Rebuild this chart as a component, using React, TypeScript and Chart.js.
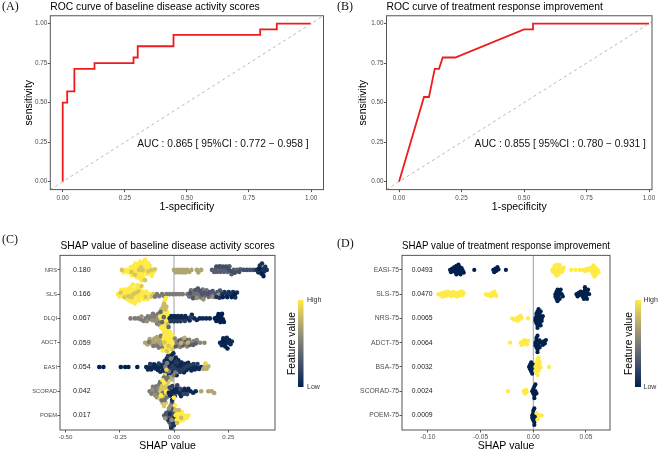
import React, { useEffect, useRef } from "react";
import { Chart, registerables } from "chart.js";
Chart.register(...registerables);

const FONT = "'Liberation Sans', Arial, sans-serif";

// ---------- ROC data ----------
const rocTicks = [0, 0.25, 0.5, 0.75, 1];
const rocA_fpr = [0, 0, 0.018, 0.018, 0.047, 0.047, 0.128, 0.128, 0.285, 0.285, 0.302, 0.302, 0.446, 0.446, 0.795, 0.795, 0.862, 0.862, 1];
const rocA_tpr = [0, 0.5, 0.5, 0.571, 0.571, 0.714, 0.714, 0.75, 0.75, 0.786, 0.786, 0.857, 0.857, 0.929, 0.929, 0.964, 0.964, 1, 1];
const rocB_fpr = [0, 0.1, 0.12, 0.143, 0.16, 0.175, 0.225, 0.5, 0.536, 0.536, 1];
const rocB_tpr = [0, 0.536, 0.536, 0.714, 0.714, 0.786, 0.786, 0.964, 0.964, 1, 1];
const aucTextA = "AUC : 0.865 [ 95%CI : 0.772 \u2212 0.958 ]";
const aucTextB = "AUC : 0.855 [ 95%CI : 0.780 \u2212 0.931 ]";
const aucPos = [0.645, 0.24];

// ---------- SHAP (C) : [feature value (0 low .. 1 high), SHAP values] ----------
type Group = [number, number[]];
const shapNRS: Group[] = [
  [1.0, [-0.232, -0.22, -0.212, -0.205, -0.199, -0.194, -0.19, -0.186, -0.182, -0.178, -0.175, -0.172, -0.169, -0.166, -0.163, -0.16, -0.158, -0.155, -0.153, -0.15, -0.148, -0.146, -0.143, -0.141, -0.138, -0.136, -0.133, -0.13, -0.127, -0.124, -0.12, -0.116, -0.112, -0.107, -0.101, -0.094]],
  [0.85, [-0.24, -0.196, -0.18, -0.161, -0.152, -0.144, -0.134, -0.118, -0.104, -0.088]],
  [0.7, [0.0, 0.008, 0.015, 0.022, 0.03, 0.037, 0.045, 0.052, 0.06, 0.07, 0.08, 0.105, 0.112, 0.125]],
  [0.35, [0.175, 0.185, 0.192, 0.2, 0.207, 0.214, 0.222, 0.23, 0.238, 0.246, 0.255, 0.265, 0.275, 0.29, 0.305]],
  [0.25, [0.195, 0.21, 0.225, 0.24, 0.252, 0.262, 0.28, 0.3, 0.32, 0.335, 0.35, 0.365]],
  [0.1, [0.38, 0.388, 0.395, 0.4, 0.405, 0.41, 0.415, 0.42, 0.427]],
  [0.0, [0.392, 0.403, 0.412]],
];
const shapSLS: Group[] = [
  [1.0, [-0.258, -0.25, -0.243, -0.237, -0.231, -0.226, -0.221, -0.217, -0.213, -0.209, -0.205, -0.202, -0.199, -0.196, -0.193, -0.19, -0.187, -0.184, -0.181, -0.178, -0.175, -0.172, -0.169, -0.166, -0.163, -0.16, -0.156, -0.152, -0.148, -0.144, -0.139, -0.134, -0.128, -0.121, -0.113]],
  [0.85, [-0.246, -0.228, -0.21, -0.197, -0.188, -0.176, -0.164, -0.15, -0.13, -0.105, -0.095]],
  [0.5, [-0.088, -0.078, -0.068, -0.055, -0.045, -0.035, -0.02, -0.005, 0.01, 0.025, 0.04]],
  [0.45, [0.062, 0.07, 0.078, 0.085, 0.092, 0.1, 0.108, 0.116, 0.124, 0.132, 0.14, 0.15, 0.16, 0.17]],
  [0.3, [0.075, 0.088, 0.098, 0.11, 0.12, 0.13, 0.142, 0.155, 0.165, 0.178, 0.19, 0.2, 0.212]],
  [0.6, [0.105, 0.135, 0.18, 0.205]],
  [0.1, [0.195, 0.21, 0.222, 0.232, 0.242, 0.252, 0.262, 0.272, 0.282, 0.29]],
  [0.0, [0.225, 0.245, 0.265, 0.28]],
];
const shapDLQI: Group[] = [
  [0.5, [-0.2, -0.18, -0.165, -0.152, -0.14, -0.13, -0.12, -0.112, -0.104, -0.097, -0.09, -0.084, -0.078, -0.073, -0.068]],
  [0.6, [-0.15, -0.125, -0.1, -0.085, -0.075, -0.066]],
  [1.0, [-0.064, -0.06, -0.057, -0.054, -0.052, -0.05, -0.048, -0.046, -0.045, -0.044, -0.043, -0.042, -0.041, -0.04, -0.039, -0.038, -0.036, -0.034, -0.032, -0.03, -0.027]],
  [0.8, [-0.058, -0.05, -0.046, -0.04, -0.035, -0.028]],
  [0.4, [-0.062, -0.055, -0.047, -0.037, -0.025]],
  [0.05, [-0.02, -0.012, -0.005, 0.002, 0.01, 0.018, 0.026, 0.034, 0.043, 0.052, 0.062, 0.072, 0.082, 0.093, 0.105, 0.118, 0.132, 0.148, 0.165]],
  [0.15, [-0.015, 0.0, 0.015, 0.03, 0.05, 0.075]],
  [0.0, [0.188, 0.195, 0.2, 0.205, 0.209, 0.213, 0.217, 0.221, 0.225, 0.23]],
];
const shapADCT: Group[] = [
  [0.7, [-0.133, -0.122, -0.112, -0.104, -0.097, -0.09, -0.084, -0.078, -0.073, -0.068, -0.063, -0.058, -0.054]],
  [0.5, [-0.115, -0.095, -0.08, -0.07, -0.06, -0.052]],
  [1.0, [-0.052, -0.048, -0.045, -0.042, -0.039, -0.036, -0.034, -0.032, -0.03, -0.028, -0.026, -0.024, -0.022, -0.02, -0.018, -0.016, -0.013, -0.01, -0.007, -0.003, 0.001]],
  [0.85, [-0.044, -0.033, -0.025, -0.017, -0.008]],
  [0.55, [0.004, 0.012, 0.02, 0.028, 0.036, 0.044, 0.052, 0.06, 0.07, 0.08, 0.092, 0.105, 0.12, 0.14]],
  [0.35, [0.008, 0.024, 0.04, 0.056, 0.072, 0.088, 0.1]],
  [0.75, [0.032, 0.048, 0.064]],
  [0.05, [0.212, 0.22, 0.227, 0.233, 0.238, 0.243, 0.248, 0.254, 0.26, 0.266]],
  [0.0, [0.224, 0.236, 0.246]],
];
const shapEASI: Group[] = [
  [0.0, [-0.344, -0.325, -0.245, -0.225, -0.21, -0.169]],
  [0.05, [-0.128, -0.12, -0.112, -0.105, -0.098, -0.092, -0.086, -0.08, -0.074, -0.068, -0.063, -0.058, -0.053, -0.048, -0.043, -0.038, -0.034, -0.03, -0.026, -0.022, -0.018, -0.015, -0.012, -0.009, -0.006, -0.003, 0.0, 0.004, 0.008, 0.012, 0.016, 0.02, 0.025, 0.03, 0.035, 0.04, 0.046, 0.052, 0.058, 0.065, 0.072, 0.08, 0.088, 0.096, 0.105, 0.115, 0.125]],
  [0.15, [-0.11, -0.07, -0.045, -0.028, -0.016, -0.008, 0.002, 0.01, 0.018, 0.028, 0.038, 0.05, 0.062, 0.075, 0.09, 0.108]],
  [0.5, [-0.04, -0.032, -0.024, -0.014, -0.004, 0.006]],
  [0.75, [-0.02, -0.01, 0.135, 0.142, 0.15, 0.158]],
  [0.9, [-0.035, 0.145]],
];
const shapSCORAD: Group[] = [
  [0.5, [-0.112, -0.104, -0.097, -0.091, -0.086, -0.081, -0.077, -0.073, -0.069]],
  [0.6, [-0.1, -0.088, -0.079, -0.071]],
  [0.85, [-0.066, -0.062, -0.058, -0.055, -0.052, -0.05, -0.048, -0.046, -0.044, -0.042, -0.04, -0.038, -0.035, -0.032, -0.028]],
  [0.45, [-0.064, -0.057, -0.051, -0.047, -0.043, -0.039, -0.034, -0.03]],
  [1.0, [-0.06, -0.053, -0.045, -0.037]],
  [0.05, [-0.024, -0.018, -0.012, -0.006, 0.0, 0.006, 0.012, 0.018, 0.025, 0.032, 0.04, 0.048, 0.057, 0.066, 0.076, 0.088, 0.1]],
  [0.2, [-0.02, -0.008, 0.004, 0.015, 0.028, 0.044, 0.06]],
  [0.7, [0.125, 0.158, 0.174, 0.185]],
];
const shapPOEM: Group[] = [
  [0.3, [-0.045, -0.036, -0.03, -0.025, -0.021, -0.018, -0.015, -0.012, -0.01, -0.008, -0.006, -0.004, -0.002]],
  [0.1, [-0.028, -0.019, -0.013, -0.009, -0.005, -0.001, 0.002]],
  [0.6, [-0.04, -0.023, -0.016, -0.011]],
  [1.0, [0.0, 0.004, 0.008, 0.012, 0.016, 0.02, 0.025, 0.03, 0.036, 0.042, 0.05, 0.058, 0.066]],
  [0.8, [0.006, 0.014, 0.022, 0.033]],
];
const labelsC = ["NRS", "SLS", "DLQI", "ADCT", "EASI", "SCORAD", "POEM"];
const importanceC = [0.18, 0.166, 0.067, 0.059, 0.054, 0.042, 0.017];
const ticksC = [-0.5, -0.25, 0, 0.25];

// ---------- SHAP (D) ----------
const shapEASI75: Group[] = [
  [0, [-0.079, -0.078, -0.077, -0.076, -0.075, -0.074, -0.074, -0.073, -0.073, -0.072, -0.072, -0.071, -0.071, -0.07, -0.07, -0.069, -0.069, -0.068, -0.067, -0.066, -0.056, -0.038, -0.037, -0.036, -0.035, -0.034, -0.033, -0.026]],
  [1, [0.018, 0.019, 0.02, 0.02, 0.021, 0.021, 0.022, 0.022, 0.023, 0.023, 0.024, 0.024, 0.025, 0.025, 0.026, 0.027, 0.028, 0.029, 0.036, 0.04, 0.044, 0.047, 0.049, 0.05, 0.052, 0.053, 0.055, 0.056, 0.056, 0.057, 0.057, 0.058, 0.058, 0.059, 0.059, 0.06, 0.061, 0.062]],
];
const shapSLS75: Group[] = [
  [1, [-0.09, -0.088, -0.087, -0.086, -0.085, -0.084, -0.083, -0.082, -0.081, -0.08, -0.079, -0.078, -0.077, -0.076, -0.075, -0.074, -0.073, -0.072, -0.071, -0.07, -0.069, -0.068, -0.067, -0.066, -0.045, -0.043, -0.041, -0.04, -0.039, -0.038, -0.037, -0.036, -0.035]],
  [0, [0.021, 0.021, 0.022, 0.022, 0.023, 0.023, 0.024, 0.024, 0.025, 0.025, 0.026, 0.027, 0.028, 0.041, 0.042, 0.043, 0.044, 0.045, 0.047, 0.047, 0.048, 0.048, 0.049, 0.049, 0.05, 0.05, 0.051, 0.051, 0.052, 0.053]],
];
const shapNRS75: Group[] = [
  [1, [-0.02, -0.018, -0.016, -0.015, -0.014, -0.013, -0.012, -0.011, -0.005]],
  [0, [0.002, 0.002, 0.003, 0.003, 0.003, 0.004, 0.004, 0.004, 0.005, 0.005, 0.005, 0.006, 0.006, 0.006, 0.007, 0.007, 0.008, 0.008, 0.009]],
];
const shapADCT75: Group[] = [
  [1, [-0.022, -0.012, -0.011, -0.01, -0.009, -0.008, -0.007, -0.006, -0.005]],
  [0, [0.002, 0.002, 0.003, 0.003, 0.003, 0.004, 0.004, 0.004, 0.005, 0.005, 0.006, 0.006, 0.008, 0.009, 0.01, 0.011, 0.012]],
];
const shapBSA75: Group[] = [
  [0, [-0.004, -0.003, -0.003, -0.002, -0.002, -0.001, -0.001, 0.0, 0.0]],
  [1, [0.002, 0.002, 0.003, 0.003, 0.003, 0.004, 0.004, 0.004, 0.005, 0.005, 0.005, 0.006, 0.006, 0.007, 0.015]],
];
const shapSCORAD75: Group[] = [
  [1, [-0.024, -0.009, -0.008, -0.007, -0.006]],
  [0, [-0.001, 0.0, 0.0, 0.001, 0.001, 0.001, 0.002, 0.002, 0.003]],
];
const shapPOEM75: Group[] = [
  [0, [-0.001, -0.001, 0.0, 0.0, 0.0, 0.001, 0.001, 0.001, 0.002, 0.002]],
  [1, [0.003, 0.004, 0.005, 0.008]],
];
const labelsD = ["EASI-75", "SLS-75", "NRS-75", "ADCT-75", "BSA-75", "SCORAD-75", "POEM-75"];
const importanceD = [0.0493, 0.047, 0.0065, 0.0064, 0.0032, 0.0024, 0.0009];
const ticksD = [-0.1, -0.05, 0, 0.05];

// ---------- helpers ----------
const CIVIDIS = ["#00204D", "#414D6B", "#7C7B78", "#BCAF6F", "#FFEA46"];
function hex(h: string) {
  return [parseInt(h.slice(1, 3), 16), parseInt(h.slice(3, 5), 16), parseInt(h.slice(5, 7), 16)];
}
function cividis(t: number) {
  const n = CIVIDIS.length - 1;
  const tt = Math.max(0, Math.min(1, t)) * n;
  const i = Math.min(n - 1, Math.floor(tt));
  const f = tt - i;
  const a = hex(CIVIDIS[i]);
  const b = hex(CIVIDIS[i + 1]);
  const c = a.map((v, k) => Math.round(v + (b[k] - v) * f));
  return `rgb(${c[0]},${c[1]},${c[2]})`;
}

function swarm(px: number[], c: number): number[] {
  const order = px.map((_, i) => i).sort((a, b) => px[a] - px[b]);
  const placed: { x: number; y: number }[] = [];
  const out = new Array(px.length).fill(0);
  for (const i of order) {
    const x = px[i];
    const nb = placed.filter((p) => Math.abs(p.x - x) < c);
    const cands = [0];
    for (const p of nb) {
      const dy = Math.sqrt(c * c - (p.x - x) ** 2);
      cands.push(p.y + dy + 1e-6, p.y - dy - 1e-6);
    }
    cands.sort((a, b) => Math.abs(a) - Math.abs(b));
    let y = 0;
    for (const cy of cands) {
      if (nb.every((p) => (p.x - x) ** 2 + (p.y - cy) ** 2 >= c * c - 1e-3)) {
        y = cy;
        break;
      }
    }
    placed.push({ x, y });
    out[i] = y;
  }
  return out;
}

const framePlugin = {
  id: "frame",
  afterDraw(chart: any) {
    const { ctx, chartArea } = chart;
    ctx.save();
    ctx.strokeStyle = "#555";
    ctx.lineWidth = 1;
    ctx.strokeRect(chartArea.left, chartArea.top, chartArea.right - chartArea.left, chartArea.bottom - chartArea.top);
    ctx.restore();
  },
};

const tickGrid = { display: true, drawOnChartArea: false, drawTicks: true, tickLength: 2.5, tickColor: "#555" };

// ---------- ROC panel ----------
function RocPanel(props: {
  left: number; width: number; fpr: number[]; tpr: number[]; title: string; auc: string;
  xMax: number; yWidth: number; rightPad: number; yTitlePad: number;
}) {
  const ref = useRef<HTMLCanvasElement>(null);
  useEffect(() => {
    const xMin = -0.05, yMin = -0.05, yMax = 1.05;
    const lo = Math.min(xMin, yMin), hi = Math.max(props.xMax, yMax);
    const aucPlugin = {
      id: "auc",
      afterDatasetsDraw(chart: any) {
        const { ctx, scales } = chart;
        ctx.save();
        ctx.font = `10.2px ${FONT}`;
        ctx.fillStyle = "#111";
        ctx.textAlign = "center";
        ctx.textBaseline = "middle";
        ctx.fillText(props.auc, scales.x.getPixelForValue(aucPos[0]), scales.y.getPixelForValue(aucPos[1]));
        ctx.restore();
      },
    };
    const chart = new Chart(ref.current as HTMLCanvasElement, {
      type: "scatter",
      data: {
        datasets: [
          { data: [{ x: lo, y: lo }, { x: hi, y: hi }], showLine: true, borderColor: "#c9b6a0", borderWidth: 1, borderDash: [3, 3], pointRadius: 0 },
          { data: props.fpr.map((f, i) => ({ x: f, y: props.tpr[i] })), showLine: true, borderColor: "#ee1c1c", borderWidth: 1.8, pointRadius: 0 },
        ],
      } as any,
      options: {
        animation: false,
        responsive: false,
        devicePixelRatio: 1,
        layout: { padding: { left: 0, right: props.rightPad, top: 0, bottom: 0 } },
        plugins: {
          legend: { display: false },
          tooltip: { enabled: false },
          title: {
            display: true, text: props.title, align: "start", fullSize: false, color: "#000",
            font: { family: FONT, size: 10.3, weight: "normal" }, padding: { top: 0.5, bottom: 2.9 },
          },
        },
        scales: {
          x: {
            type: "linear", min: xMin, max: props.xMax,
            afterFit: (s: any) => { s.height = 36.4; },
            afterBuildTicks: (s: any) => { s.ticks = rocTicks.map((v) => ({ value: v })); },
            ticks: { callback: (v: any) => Number(v).toFixed(2), font: { family: FONT, size: 6.3 }, color: "#4d4d4d", padding: 2.5, maxRotation: 0, autoSkip: false },
            grid: tickGrid, border: { display: false },
            title: { display: true, text: "1-specificity", color: "#000", font: { family: FONT, size: 10.5 }, padding: { top: 0, bottom: 12.2 } },
          },
          y: {
            type: "linear", min: yMin, max: yMax,
            afterFit: (s: any) => { s.width = props.yWidth; },
            afterBuildTicks: (s: any) => { s.ticks = rocTicks.map((v) => ({ value: v })); },
            ticks: { callback: (v: any) => Number(v).toFixed(2), font: { family: FONT, size: 6.3 }, color: "#4d4d4d", padding: 0.5, autoSkip: false },
            grid: tickGrid, border: { display: false },
            title: { display: true, text: "sensitivity", color: "#000", font: { family: FONT, size: 10.5 }, padding: { top: props.yTitlePad, bottom: 0 } },
          },
        },
      } as any,
      plugins: [framePlugin, aucPlugin],
    });
    return () => chart.destroy();
  }, []);
  return <canvas ref={ref} width={props.width} height={226} style={{ position: "absolute", left: props.left, top: 0 }} />;
}

// ---------- SHAP panel ----------
function ShapPanel(props: {
  left: number; width: number; rows: Group[][]; labels: string[]; importance: number[]; digits: number;
  xMin: number; xMax: number; xTicks: number[]; title: string; yWidth: number; rightPad: number;
  numX: number; yFont: number; xFont: number; numFont: number; collide: number; radius: number;
  legend: { barX: number; barW: number; top: number; bottom: number; labelX: number; titleX: number };
}) {
  const ref = useRef<HTMLCanvasElement>(null);
  useEffect(() => {
    const n = props.rows.length;
    const zeroPlugin = {
      id: "zero",
      beforeDatasetsDraw(chart: any) {
        const { ctx, chartArea, scales } = chart;
        const x = scales.x.getPixelForValue(0);
        ctx.save();
        ctx.strokeStyle = "#a0a0a0";
        ctx.lineWidth = 1;
        ctx.beginPath();
        ctx.moveTo(x, chartArea.top);
        ctx.lineTo(x, chartArea.bottom);
        ctx.stroke();
        ctx.restore();
      },
    };
    const numPlugin = {
      id: "nums",
      afterDatasetsDraw(chart: any) {
        const { ctx, scales } = chart;
        ctx.save();
        ctx.font = `${props.numFont}px ${FONT}`;
        ctx.fillStyle = "#1a1a1a";
        ctx.textAlign = "left";
        ctx.textBaseline = "middle";
        props.importance.forEach((v, r) => {
          ctx.fillText(v.toFixed(props.digits), scales.x.getPixelForValue(props.numX), scales.y.getPixelForValue(r));
        });
        ctx.restore();
      },
    };
    const L = props.legend;
    const legendPlugin = {
      id: "cbar",
      afterDraw(chart: any) {
        const { ctx } = chart;
        ctx.save();
        const g = ctx.createLinearGradient(0, L.bottom, 0, L.top);
        CIVIDIS.forEach((c, i) => g.addColorStop(i / (CIVIDIS.length - 1), c));
        ctx.fillStyle = g;
        ctx.fillRect(L.barX, L.top, L.barW, L.bottom - L.top);
        ctx.fillStyle = "#333";
        ctx.font = `7px ${FONT}`;
        ctx.textAlign = "left";
        ctx.textBaseline = "middle";
        ctx.fillText("High", L.labelX, L.top);
        ctx.fillText("Low", L.labelX, L.bottom);
        ctx.translate(L.titleX, (L.top + L.bottom) / 2);
        ctx.rotate(-Math.PI / 2);
        ctx.textAlign = "center";
        ctx.fillStyle = "#000";
        ctx.font = `10.3px ${FONT}`;
        ctx.fillText("Feature value", 0, 0);
        ctx.restore();
      },
    };
    const chart = new Chart(ref.current as HTMLCanvasElement, {
      type: "scatter",
      data: {
        datasets: [
          {
            data: [],
            pointRadius: props.radius,
            borderWidth: 0,
            pointBackgroundColor: (ctx: any) => (ctx.raw ? cividis(ctx.raw.f) : "#000"),
          },
        ],
      } as any,
      options: {
        animation: false,
        responsive: false,
        devicePixelRatio: 1,
        layout: { padding: { left: 0, right: props.rightPad, top: 0, bottom: 0 } },
        plugins: {
          legend: { display: false },
          tooltip: { enabled: false },
          title: {
            display: true, text: props.title, align: "center", fullSize: false, color: "#000",
            font: { family: FONT, size: 10.3, weight: "normal" }, padding: { top: 14, bottom: 3 },
          },
        },
        scales: {
          x: {
            type: "linear", min: props.xMin, max: props.xMax,
            afterFit: (s: any) => { s.height = 22; },
            afterBuildTicks: (s: any) => { s.ticks = props.xTicks.map((v) => ({ value: v })); },
            ticks: { callback: (v: any) => Number(v).toFixed(2), font: { family: FONT, size: props.xFont }, color: "#4d4d4d", padding: 0.6, maxRotation: 0, autoSkip: false },
            grid: tickGrid, border: { display: false },
            title: { display: true, text: "SHAP value", color: "#000", font: { family: FONT, size: 10.5 }, padding: { top: 0, bottom: 0 } },
          },
          y: {
            type: "linear", min: -0.6, max: n - 0.4, reverse: true,
            afterFit: (s: any) => { s.width = props.yWidth; },
            afterBuildTicks: (s: any) => { s.ticks = props.labels.map((_, i) => ({ value: i })); },
            ticks: { callback: (v: any) => props.labels[v], font: { family: FONT, size: props.yFont }, color: "#4d4d4d", padding: 0.5, autoSkip: false },
            grid: tickGrid, border: { display: false },
          },
        },
      } as any,
      plugins: [zeroPlugin, numPlugin, framePlugin, legendPlugin],
    });
    const xs: any = chart.scales.x;
    const ys: any = chart.scales.y;
    const rowPx = Math.abs(ys.getPixelForValue(1) - ys.getPixelForValue(0));
    const pts: any[] = [];
    props.rows.forEach((groups, r) => {
      const items: { x: number; f: number }[] = [];
      groups.forEach(([f, vals]) => vals.forEach((v) => items.push({ x: v, f })));
      const offs = swarm(items.map((it) => xs.getPixelForValue(it.x)), props.collide);
      items.forEach((it, i) => pts.push({ x: it.x, y: r + offs[i] / rowPx, f: it.f }));
    });
    (chart.data.datasets[0] as any).data = pts;
    chart.update("none");
    return () => chart.destroy();
  }, []);
  return <canvas ref={ref} width={props.width} height={226} style={{ position: "absolute", left: props.left, top: 0 }} />;
}

const labelStyle = (left: number, top: number): React.CSSProperties => ({
  position: "absolute", left, top, font: "12px 'Liberation Serif', 'Times New Roman', serif", lineHeight: "12px", color: "#111",
});

export default function App() {
  return (
    <div style={{ position: "absolute", left: 0, top: 0, width: 661, height: 452, background: "#fff", overflow: "hidden" }}>
      <RocPanel left={0} width={330} fpr={rocA_fpr} tpr={rocA_tpr} title="ROC curve of baseline disease activity scores"
        auc={aucTextA} xMax={1.05} yWidth={50.3} rightPad={6.5} yTitlePad={23} />
      <RocPanel left={330} width={331} fpr={rocB_fpr} tpr={rocB_tpr} title="ROC curve of treatment response improvement"
        auc={aucTextB} xMax={1.012} yWidth={56.5} rightPad={9} yTitlePad={27} />
      <div style={{ position: "absolute", left: 0, top: 226, width: 330, height: 226 }}>
        <ShapPanel left={0} width={330} rows={[shapNRS, shapSLS, shapDLQI, shapADCT, shapEASI, shapSCORAD, shapPOEM]}
          labels={labelsC} importance={importanceC} digits={3} xMin={-0.525} xMax={0.465} xTicks={ticksC}
          title="SHAP value of baseline disease activity scores" yWidth={60} rightPad={55} numX={-0.465}
          yFont={5.8} xFont={6.2} numFont={7} collide={3.0} radius={2.3}
          legend={{ barX: 298, barW: 5.5, top: 74, bottom: 161, labelX: 307, titleX: 291.7 }} />
      </div>
      <div style={{ position: "absolute", left: 330, top: 226, width: 331, height: 226 }}>
        <ShapPanel left={0} width={331} rows={[shapEASI75, shapSLS75, shapNRS75, shapADCT75, shapBSA75, shapSCORAD75, shapPOEM75]}
          labels={labelsD} importance={importanceD} digits={4} xMin={-0.1246} xMax={0.0728} xTicks={ticksD}
          title="SHAP value of treatment response improvement" yWidth={72} rightPad={51} numX={-0.1154}
          yFont={6.8} xFont={6.6} numFont={6.8} collide={2.5} radius={2.1}
          legend={{ barX: 305, barW: 6, top: 74, bottom: 161, labelX: 313.5, titleX: 299 }} />
      </div>
      <div style={labelStyle(2, 0)}>(A)</div>
      <div style={labelStyle(337, 0)}>(B)</div>
      <div style={labelStyle(2, 233)}>(C)</div>
      <div style={labelStyle(337, 237)}>(D)</div>
    </div>
  );
}
